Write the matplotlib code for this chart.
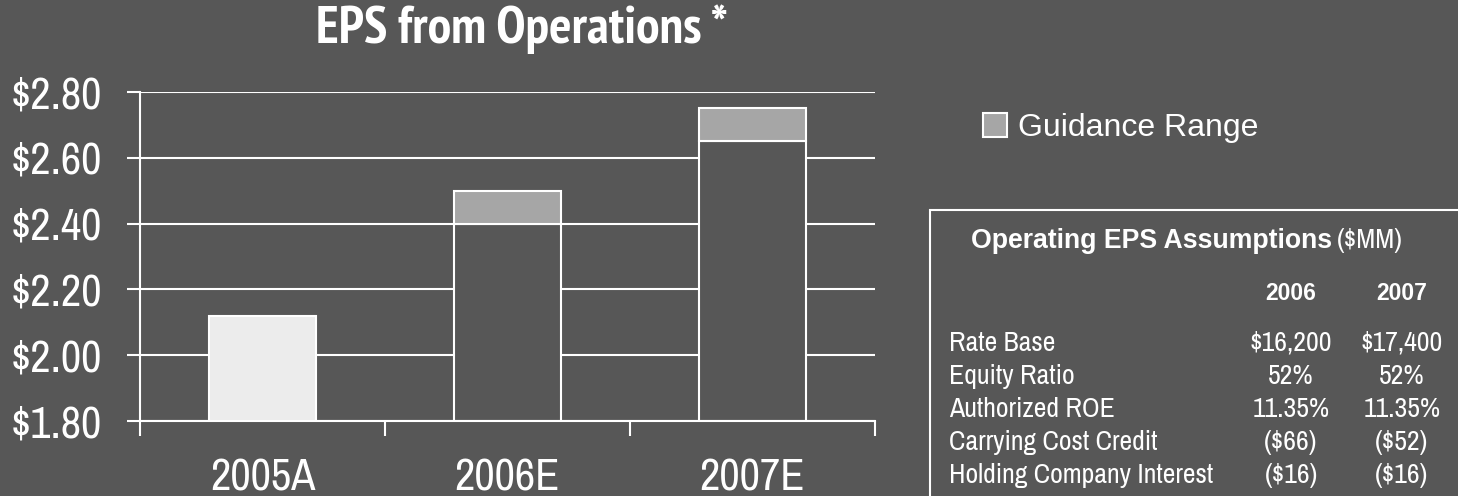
import numpy as np
import matplotlib
matplotlib.use('Agg')
import matplotlib.pyplot as plt
from matplotlib import font_manager
from matplotlib.patches import Rectangle

# narrow faces: regular and bold, plus a plain one for the legend and box headings
fonts = {(f.name, f.weight) for f in font_manager.fontManager.ttflist}
names = {n for n, _ in fonts}
NARROW = 'Archivo Narrow' if 'Archivo Narrow' in names else 'Liberation Sans'
NARROW_BOLD = NARROW
for cand in ['PT Sans Narrow', 'Fira Sans Condensed', 'Barlow Condensed']:
    if (cand, 700) in fonts:
        NARROW_BOLD = cand
        break
PLAIN = 'Liberation Sans'

BG = '#575757'
RANGE = '#a6a6a6'
ACTUAL = '#ececec'

categories = ['2005A', '2006E', '2007E']
eps_low = [2.12, 2.40, 2.65]
eps_high = [2.12, 2.50, 2.75]
yticks = [1.80, 2.00, 2.20, 2.40, 2.60, 2.80]

tbl_cols = ['2006', '2007']
tbl_rows = ['Rate Base', 'Equity Ratio', 'Authorized ROE',
            'Carrying Cost Credit', 'Holding Company Interest']
tbl_2006 = ['$16,200', '52%', '11.35%', '($66)', '($16)']
tbl_2007 = ['$17,400', '52%', '11.35%', '($52)', '($16)']

W, H = 1458, 496
fig = plt.figure(figsize=(W / 100, H / 100), dpi=100, facecolor=BG)
ax = fig.add_axes([140 / W, 1 - 421 / H, 735 / W, 329 / H])
ax.set_facecolor(BG)

ymin = yticks[0]
x = np.arange(len(categories))
low = np.array(eps_low)
high = np.array(eps_high)
base_colors = [ACTUAL, BG, BG]
ax.bar(x, low - ymin, bottom=ymin, width=0.44, color=base_colors,
       edgecolor='white', linewidth=1.5, zorder=3)
rng = ax.bar(x[1:], (high - low)[1:], bottom=low[1:], width=0.44, color=RANGE,
             edgecolor='white', linewidth=1.5, zorder=3, label='Guidance Range')

ax.set_xlim(-0.5, 2.5)
ax.set_ylim(ymin, yticks[-1])
ax.set_yticks(yticks)
ax.set_yticklabels(['${:.2f}'.format(v) for v in yticks])
ax.set_xticks(x)
ax.set_xticklabels(categories)
ax.set_xticks([-0.5, 0.5, 1.5, 2.5], minor=True)
ax.grid(axis='y', color='white', linewidth=1.5, zorder=1)
ax.set_axisbelow(True)

for s in ['top', 'right']:
    ax.spines[s].set_visible(False)
for s in ['left', 'bottom']:
    ax.spines[s].set_color('white')
    ax.spines[s].set_linewidth(1.5)
    ax.spines[s].set_zorder(4)

ax.tick_params(axis='y', colors='white', length=9.5, width=1.5, pad=18,
               labelsize=32)
ax.tick_params(axis='x', which='major', colors='white', length=0, pad=27,
               labelsize=32)
ax.tick_params(axis='x', which='minor', colors='white', length=11, width=1.5)
for lab in ax.get_yticklabels() + ax.get_xticklabels():
    lab.set_fontfamily(NARROW)

fig.text(522 / W, 1 - 43 / H, 'EPS from Operations *', ha='center',
         va='baseline', color='white', fontsize=38, fontweight='bold',
         family=NARROW_BOLD)

leg = fig.legend(handles=[rng], loc='center left',
                 bbox_to_anchor=(983 / W, 1 - 128 / H), frameon=False,
                 borderpad=0, borderaxespad=0, handlelength=0.75,
                 handleheight=0.75, handletextpad=0.35,
                 prop={'family': PLAIN, 'size': 23})
for t in leg.get_texts():
    t.set_color('white')

# assumptions box
fig.patches.append(Rectangle((930 / W, -0.1), 0.5, 0.1 + (1 - 210 / H),
                             transform=fig.transFigure, facecolor='none',
                             edgecolor='white', linewidth=1.5))
fig.text(1332 / W, 1 - 248 / H, 'Operating EPS Assumptions', ha='right',
         va='baseline', color='white', fontsize=19.2, fontweight='bold',
         family=PLAIN)
fig.text(1337 / W, 1 - 248 / H, '($MM)', ha='left', va='baseline',
         color='white', fontsize=20, family=NARROW)

col_x = [1291 / W, 1402 / W]
for cx, c in zip(col_x, tbl_cols):
    fig.text(cx, 1 - 300 / H, c, ha='center', va='baseline', color='white',
             fontsize=16.5, fontweight='bold', family=PLAIN)

row_y = [351, 384, 417, 450, 483]
for ry, name, a, b in zip(row_y, tbl_rows, tbl_2006, tbl_2007):
    y = 1 - ry / H
    fig.text(949 / W, y, name, ha='left', va='baseline', color='white',
             fontsize=20, family=NARROW)
    fig.text(col_x[0], y, a, ha='center', va='baseline', color='white',
             fontsize=20, family=NARROW)
    fig.text(col_x[1], y, b, ha='center', va='baseline', color='white',
             fontsize=20, family=NARROW)

fig.savefig('out.png', dpi=100, facecolor=BG)
